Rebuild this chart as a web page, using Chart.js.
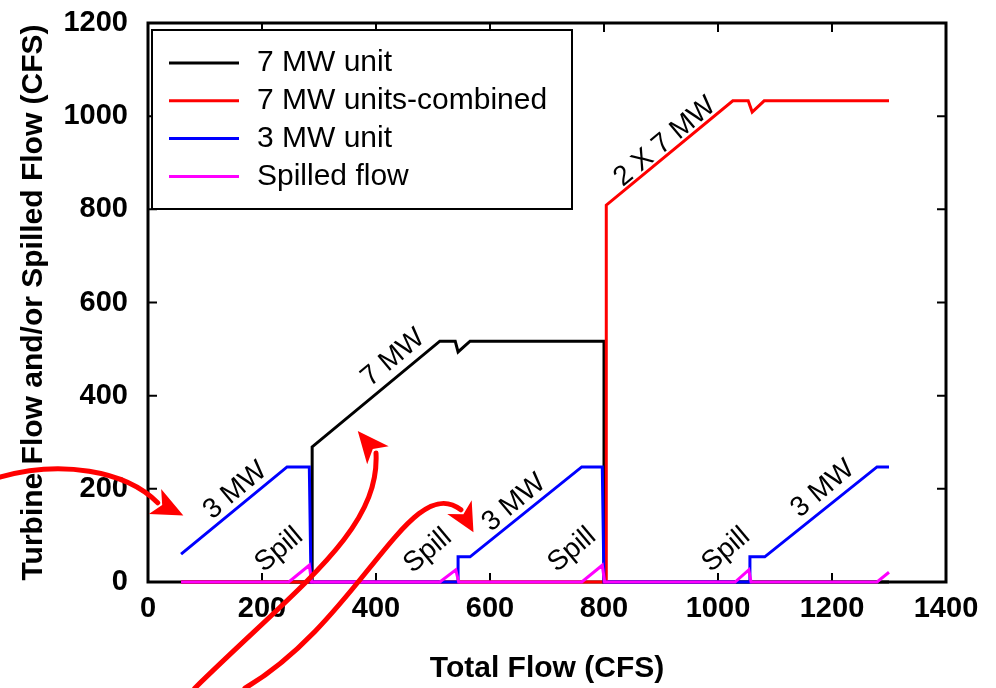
<!DOCTYPE html>
<html>
<head>
<meta charset="utf-8">
<script src="https://cdn.jsdelivr.net/npm/chart.js@4.4.0/dist/chart.umd.min.js"></script>
<style>
  html, body { margin: 0; padding: 0; background: #fff; }
  canvas { display: block; }
</style>
</head>
<body>
<canvas id="flowChart" width="996" height="688"></canvas>
<script>
// Total flow (CFS) breakpoints and the flow through each unit (CFS)
const unit7X = [58, 288, 288, 512, 539, 544, 565, 800, 800, 1300];
const unit7Y = [0, 0, 290, 517, 517, 494, 517, 517, 0, 0];

const combinedX = [58, 804, 804, 1026, 1053, 1060, 1081, 1300];
const combinedY = [0, 0, 809, 1033, 1033, 1009, 1033, 1033];

const unit3X = [58, 244, 283, 286, 544, 544, 565, 761, 797, 800, 1056, 1056, 1082, 1279, 1300];
const unit3Y = [60, 247, 247, 0, 0, 54, 54, 247, 247, 0, 0, 54, 54, 247, 247];

const spillX = [58, 247, 283, 287, 512, 540, 545, 761, 797, 801, 1030, 1054, 1058, 1279, 1300];
const spillY = [0, 0, 36, 0, 0, 26, 0, 0, 36, 0, 0, 26, 0, 0, 21];

const seriesLabels = ['7 MW unit', '7 MW units-combined', '3 MW unit', 'Spilled flow'];
const seriesColors = ['#000000', '#ff0000', '#0000ff', '#ff00ff'];

const xTicks = [0, 200, 400, 600, 800, 1000, 1200, 1400];
const yTicks = [0, 200, 400, 600, 800, 1000, 1200];

// text notes along the curves, placed in data units
const noteTexts = ['3 MW', 'Spill', '7 MW', 'Spill', '3 MW', 'Spill', '2 X 7 MW', 'Spill', '3 MW'];
const noteX = [153, 230, 430, 491, 642, 744, 907, 1014, 1184];
const noteY = [196, 69, 481, 67, 170, 69, 945, 69, 200];

// red hand-drawn arrows: cubic curve points then arrow tip, in data units
const arrowPaths = [
  [[-260, 225], [-154, 262], [-40, 240], [17, 170], [62, 143]],
  [[82, -228], [267, -6], [407, 112], [400, 277], [368, 324]],
  [[170, -228], [372, -82], [460, 240], [549, 155], [571, 107]]
];

const FONT = '"Liberation Sans", Arial, sans-serif';

function toPoints(xs, ys) {
  return xs.map((x, i) => ({ x: x, y: ys[i] }));
}

const seriesData = [
  toPoints(unit7X, unit7Y),
  toPoints(combinedX, combinedY),
  toPoints(unit3X, unit3Y),
  toPoints(spillX, spillY)
];

// frame with inward ticks on all four sides
const framePlugin = {
  id: 'frame',
  beforeDatasetsDraw(chart) {
    const { ctx, chartArea: a, scales } = chart;
    ctx.save();
    ctx.strokeStyle = '#000';
    ctx.lineWidth = 2;
    ctx.beginPath();
    xTicks.forEach(v => {
      const px = scales.x.getPixelForValue(v);
      ctx.moveTo(px, a.bottom); ctx.lineTo(px, a.bottom - 9);
      ctx.moveTo(px, a.top); ctx.lineTo(px, a.top + 9);
    });
    yTicks.forEach(v => {
      const py = scales.y.getPixelForValue(v);
      ctx.moveTo(a.left, py); ctx.lineTo(a.left + 9, py);
      ctx.moveTo(a.right, py); ctx.lineTo(a.right - 9, py);
    });
    ctx.stroke();
    ctx.lineWidth = 3;
    ctx.strokeRect(a.left, a.top, a.right - a.left, a.bottom - a.top);
    ctx.restore();
  }
};

// boxed legend inside the plot, top left
const legendPlugin = {
  id: 'boxLegend',
  afterDatasetsDraw(chart) {
    const { ctx, chartArea: a } = chart;
    const left = a.left + 4, top = a.top + 7;
    ctx.save();
    ctx.fillStyle = '#fff';
    ctx.fillRect(left, top, 420, 179);
    ctx.strokeStyle = '#000';
    ctx.lineWidth = 2;
    ctx.strokeRect(left, top, 420, 179);
    ctx.font = '30px ' + FONT;
    ctx.textBaseline = 'middle';
    ctx.textAlign = 'left';
    seriesLabels.forEach((label, i) => {
      const y = top + 33 + i * 37.8;
      ctx.strokeStyle = seriesColors[i];
      ctx.lineWidth = 3;
      ctx.beginPath();
      ctx.moveTo(left + 17, y);
      ctx.lineTo(left + 87, y);
      ctx.stroke();
      ctx.fillStyle = '#000';
      ctx.fillText(label, left + 105, y);
    });
    ctx.restore();
  }
};

function arrowHead(ctx, base, tip, halfW) {
  const dx = tip[0] - base[0], dy = tip[1] - base[1];
  const len = Math.hypot(dx, dy);
  const ux = dx / len, uy = dy / len;
  const nx = -uy, ny = ux;
  ctx.beginPath();
  ctx.moveTo(tip[0], tip[1]);
  ctx.lineTo(base[0] + nx * halfW - ux * 3, base[1] + ny * halfW - uy * 3);
  ctx.lineTo(base[0] + ux * 5, base[1] + uy * 5);
  ctx.lineTo(base[0] - nx * halfW - ux * 3, base[1] - ny * halfW - uy * 3);
  ctx.closePath();
  ctx.fill();
}

const notesPlugin = {
  id: 'notes',
  afterDatasetsDraw(chart) {
    const { ctx, scales } = chart;
    ctx.save();
    ctx.fillStyle = '#000';
    ctx.font = '28px ' + FONT;
    ctx.textAlign = 'center';
    ctx.textBaseline = 'middle';
    noteTexts.forEach((t, i) => {
      ctx.save();
      ctx.translate(scales.x.getPixelForValue(noteX[i]), scales.y.getPixelForValue(noteY[i]));
      ctx.rotate(-40 * Math.PI / 180);
      ctx.fillText(t, 0, 0);
      ctx.restore();
    });
    ctx.restore();
  },
  afterDraw(chart) {
    const { ctx, scales } = chart;
    ctx.save();
    ctx.strokeStyle = '#ff0000';
    ctx.fillStyle = '#ff0000';
    ctx.lineWidth = 5;
    ctx.lineCap = 'round';
    arrowPaths.forEach(path => {
      const p = path.map(d => [scales.x.getPixelForValue(d[0]), scales.y.getPixelForValue(d[1])]);
      ctx.beginPath();
      ctx.moveTo(p[0][0], p[0][1]);
      ctx.bezierCurveTo(p[1][0], p[1][1], p[2][0], p[2][1], p[3][0], p[3][1]);
      ctx.stroke();
      arrowHead(ctx, p[3], p[4], 14);
    });
    ctx.restore();
  }
};

new Chart(document.getElementById('flowChart'), {
  type: 'line',
  data: {
    datasets: seriesData.map((pts, i) => ({
      label: seriesLabels[i],
      data: pts,
      borderColor: seriesColors[i],
      backgroundColor: seriesColors[i],
      borderWidth: 3,
      pointRadius: 0,
      tension: 0,
      fill: false,
      clip: false,
      order: 4 - i
    }))
  },
  options: {
    responsive: false,
    animation: false,
    devicePixelRatio: 1,
    layout: { padding: { top: 23, right: 50, left: 0, bottom: 0 } },
    plugins: {
      legend: { display: false },
      tooltip: { enabled: false }
    },
    scales: {
      x: {
        type: 'linear',
        min: 0,
        max: 1400,
        afterBuildTicks: s => { s.ticks = xTicks.map(v => ({ value: v })); },
        afterFit: s => { s.height = 106; s.paddingLeft = 0; s.paddingRight = 0; },
        grid: { display: false, drawTicks: false },
        border: { display: false },
        ticks: {
          color: '#000',
          padding: 10,
          maxRotation: 0,
          callback: v => String(v),
          font: { family: FONT, size: 29, weight: 'bold' }
        },
        title: {
          display: true,
          text: 'Total Flow (CFS)',
          color: '#000',
          padding: { top: 0, bottom: 1 },
          font: { family: FONT, size: 30, weight: 'bold' }
        }
      },
      y: {
        min: 0,
        max: 1200,
        afterBuildTicks: s => { s.ticks = yTicks.map(v => ({ value: v })); },
        afterFit: s => { s.width = 148; s.paddingTop = 0; s.paddingBottom = 0; },
        grid: { display: false, drawTicks: false },
        border: { display: false },
        ticks: {
          color: '#000',
          padding: 20,
          callback: v => String(v),
          font: { family: FONT, size: 29, weight: 'bold' }
        },
        title: {
          display: true,
          text: 'Turbine Flow and/or Spilled Flow (CFS)',
          color: '#000',
          padding: { top: 16, bottom: 0 },
          font: { family: FONT, size: 30, weight: 'bold' }
        }
      }
    }
  },
  plugins: [framePlugin, legendPlugin, notesPlugin]
});
</script>
</body>
</html>
